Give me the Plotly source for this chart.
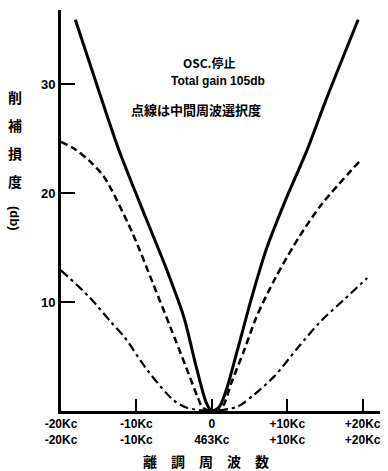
import plotly.graph_objects as go

# Detuning (kc) and attenuation (db)
solid_kc = [-18.1, -14.9, -12.3, -8.8, -6.0, -3.7, -2.05, -0.7, 0, 1.0, 1.9, 3.4, 5.2, 7.2, 9.8, 12.6, 15.0, 19.4]
solid_db = [35.9, 29.2, 23.9, 17.8, 13.0, 8.6, 4.0, 0.7, 0, 0.4, 1.9, 5.6, 10.2, 14.8, 19.4, 23.9, 28.3, 35.9]

dashed_kc = [-20, -18.1, -16.3, -14.4, -13.3, -10.5, -7.8, -5.5, -3.4, -1.9, -1.2, 0, 1.4, 2.6, 4.3, 5.9, 8.5, 11.6, 14.6, 19.7]
dashed_db = [24.7, 24.0, 23.0, 21.6, 20.3, 16.3, 11.7, 7.7, 4.0, 1.3, 0.3, 0, 0.4, 2.6, 5.6, 8.6, 12.3, 16.0, 19.0, 23.0]

dashdot_kc = [-20, -16.3, -13.3, -11.6, -8.5, -5.1, -3.3, 0, 3.4, 5.6, 8.3, 11.4, 14.4, 17.5, 20.6]
dashdot_db = [12.9, 10.5, 8.1, 6.8, 3.7, 1.0, 0.3, 0, 0.4, 1.5, 3.2, 5.8, 8.2, 10.2, 12.2]

x_tickvals = [-20, -10, 0, 10, 20]
x_ticktext = ["-20Kc<br>-20Kc", "-10Kc<br>-10Kc", "0<br>463Kc", "+10Kc<br>+10Kc", "+20Kc<br>+20Kc"]
y_tickvals = [10, 20, 30]

LAT = "Liberation Sans, Arial, sans-serif"
CJK = "Noto Sans CJK JP, Noto Sans CJK SC, sans-serif"

fig = go.Figure()
fig.add_trace(go.Scatter(x=solid_kc, y=solid_db, mode="lines",
                         line=dict(color="black", width=3, shape="spline", smoothing=0.8)))
fig.add_trace(go.Scatter(x=dashed_kc, y=dashed_db, mode="lines",
                         line=dict(color="black", width=2.5, dash="7px,4px", shape="spline", smoothing=0.8)))
fig.add_trace(go.Scatter(x=dashdot_kc, y=dashdot_db, mode="lines",
                         line=dict(color="black", width=2.2, dash="9px,4px,3px,4px", shape="spline", smoothing=0.8)))

fig.update_layout(
    width=388, height=471,
    margin=dict(l=61, r=8, t=10, b=60),
    paper_bgcolor="white", plot_bgcolor="white",
    showlegend=False,
    xaxis=dict(range=[-20, 22.3], tickvals=x_tickvals, ticktext=x_ticktext,
               showgrid=False, zeroline=False, showline=True, linecolor="black", linewidth=3,
               ticks="inside", ticklen=12, tickwidth=2, tickcolor="black",
               tickfont=dict(family=LAT, size=12, color="black", weight="bold"), fixedrange=True,
               automargin=False),
    yaxis=dict(range=[0, 36.8], tickvals=y_tickvals,
               showgrid=False, zeroline=False, showline=True, linecolor="black", linewidth=3,
               ticks="inside", ticklen=14, tickwidth=2, tickcolor="black",
               tickfont=dict(family=LAT, size=13, color="black", weight="bold"), fixedrange=True,
               automargin=False),
)

def ann(text, x, y, size, font=CJK, angle=0, xanchor="center"):
    fig.add_annotation(text=text, x=x, y=y, xref="paper", yref="paper", showarrow=False,
                       xanchor=xanchor, yanchor="middle", textangle=angle,
                       font=dict(family=font, size=size, color="black", weight="bold"))

# paper coords: plot spans x 61..380, y 10..411 (pixels)
def px(x):
    return (x - 61) / 319
def py(y):
    return (411 - y) / 401

for i, ch in enumerate(["削", "補", "損", "度"]):
    ann(ch, px(15), py(97 + i * 28), 14)
ann("(db)", px(15), py(218), 13, font=LAT, angle=90)

ann("OSC.停止", px(181), py(62), 12, xanchor="left")
ann("Total gain 105db", px(169), py(81), 12, font=LAT, xanchor="left")
ann("点線は中間周波選択度", px(129), py(109), 13, xanchor="left")
ann("離　調　周　波　数", px(206), py(461), 14)

fig.write_html("out.html", config={"displayModeBar": False},
               post_script="document.body.style.margin='0';")
